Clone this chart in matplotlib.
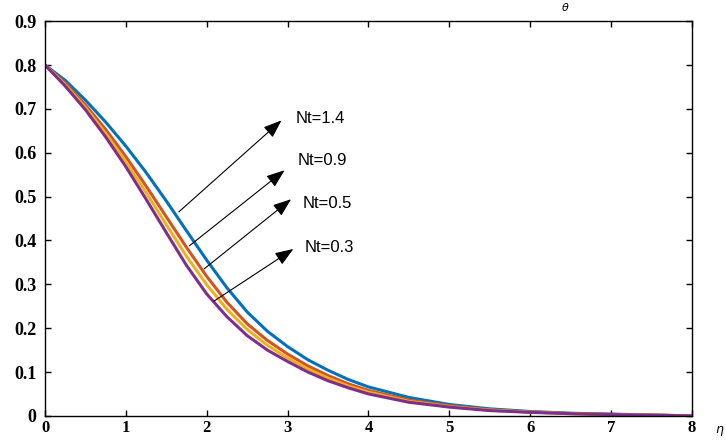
import matplotlib
matplotlib.use('Agg')
import matplotlib.pyplot as plt

# eta grid and profiles
eta = [0, 0.25, 0.5, 0.75, 1, 1.25, 1.5, 1.75, 2, 2.25, 2.5, 2.75, 3, 3.25, 3.5, 3.75, 4,
       4.5, 5, 5.5, 6, 6.5, 7, 7.5, 8]
nt_14 = [0.80, 0.765, 0.72, 0.67, 0.615, 0.555, 0.49, 0.422, 0.355, 0.292, 0.237, 0.193, 0.158,
         0.128, 0.104, 0.083, 0.066, 0.042, 0.026, 0.016, 0.010, 0.006, 0.004, 0.002, 0.0]
nt_09 = [0.80, 0.759, 0.709, 0.653, 0.591, 0.524, 0.454, 0.384, 0.318, 0.259, 0.21, 0.172, 0.141,
         0.114, 0.092, 0.073, 0.058, 0.036, 0.023, 0.014, 0.009, 0.0055, 0.0035, 0.0018, 0.0]
nt_05 = [0.80, 0.755, 0.703, 0.644, 0.58, 0.509, 0.436, 0.364, 0.299, 0.243, 0.197, 0.161, 0.132,
         0.107, 0.086, 0.068, 0.054, 0.033, 0.021, 0.013, 0.0085, 0.005, 0.003, 0.0016, 0.0]
nt_03 = [0.80, 0.752, 0.698, 0.636, 0.568, 0.494, 0.418, 0.343, 0.278, 0.226, 0.183, 0.150, 0.124,
         0.1, 0.08, 0.064, 0.05, 0.031, 0.02, 0.012, 0.008, 0.005, 0.003, 0.0015, 0.0]

labels = ['Nt=1.4', 'Nt=0.9', 'Nt=0.5', 'Nt=0.3']
arrow_start = [(1.63, 0.461), (1.76, 0.384), (1.94, 0.331), (2.06, 0.258)]
arrow_end = [(2.95, 0.678), (2.99, 0.564), (3.07, 0.498), (3.10, 0.384)]
text_pos = [(3.10, 0.678), (3.13, 0.582), (3.18, 0.484), (3.21, 0.384)]

fig = plt.figure(figsize=(7.26, 4.41), dpi=100)
ax = fig.add_axes([0.062, 0.057, 0.891, 0.895])

# MATLAB default colours
ax.plot(eta, nt_14, color=(0, 0.447, 0.741), linewidth=2.2)
ax.plot(eta, nt_09, color=(0.85, 0.325, 0.098), linewidth=2.2)
ax.plot(eta, nt_05, color=(0.929, 0.694, 0.125), linewidth=2.2)
ax.plot(eta, nt_03, color=(0.494, 0.184, 0.556), linewidth=2.2)

for lab, s, e, t in zip(labels, arrow_start, arrow_end, text_pos):
    ax.annotate('', xy=e, xytext=s,
                arrowprops=dict(arrowstyle='-|>,head_length=0.8,head_width=0.3',
                                color='k', lw=0.8, mutation_scale=14))
    ax.text(t[0], t[1], lab, fontsize=12, family='Liberation Sans',
            ha='left', va='center')

ax.set_xlim(0, 8)
ax.set_ylim(0, 0.9)
ax.set_xticks(range(0, 9))
ax.set_yticks([0, 0.1, 0.2, 0.3, 0.4, 0.5, 0.6, 0.7, 0.8, 0.9])
ax.set_yticklabels(['0', '0.1', '0.2', '0.3', '0.4', '0.5', '0.6', '0.7', '0.8', '0.9'])
ax.tick_params(direction='in', top=True, right=True, length=4, width=1)
ax.tick_params(axis='y', pad=6, labelsize=13)
ax.tick_params(axis='x', pad=3, labelsize=12)
for lbl in ax.get_xticklabels() + ax.get_yticklabels():
    lbl.set_family('Liberation Serif')
    lbl.set_fontweight('bold')
for sp in ax.spines.values():
    sp.set_linewidth(1)

# axis label sits outside, right of the last tick
ax.text(8.28, -0.035, r'$\eta$', fontsize=9, ha='left', va='center', clip_on=False)
# small symbol at the top edge
fig.text(565 / 726, 0.998, r'$\theta$', fontsize=8, ha='center', va='top')

fig.savefig('out.png', dpi=100)
